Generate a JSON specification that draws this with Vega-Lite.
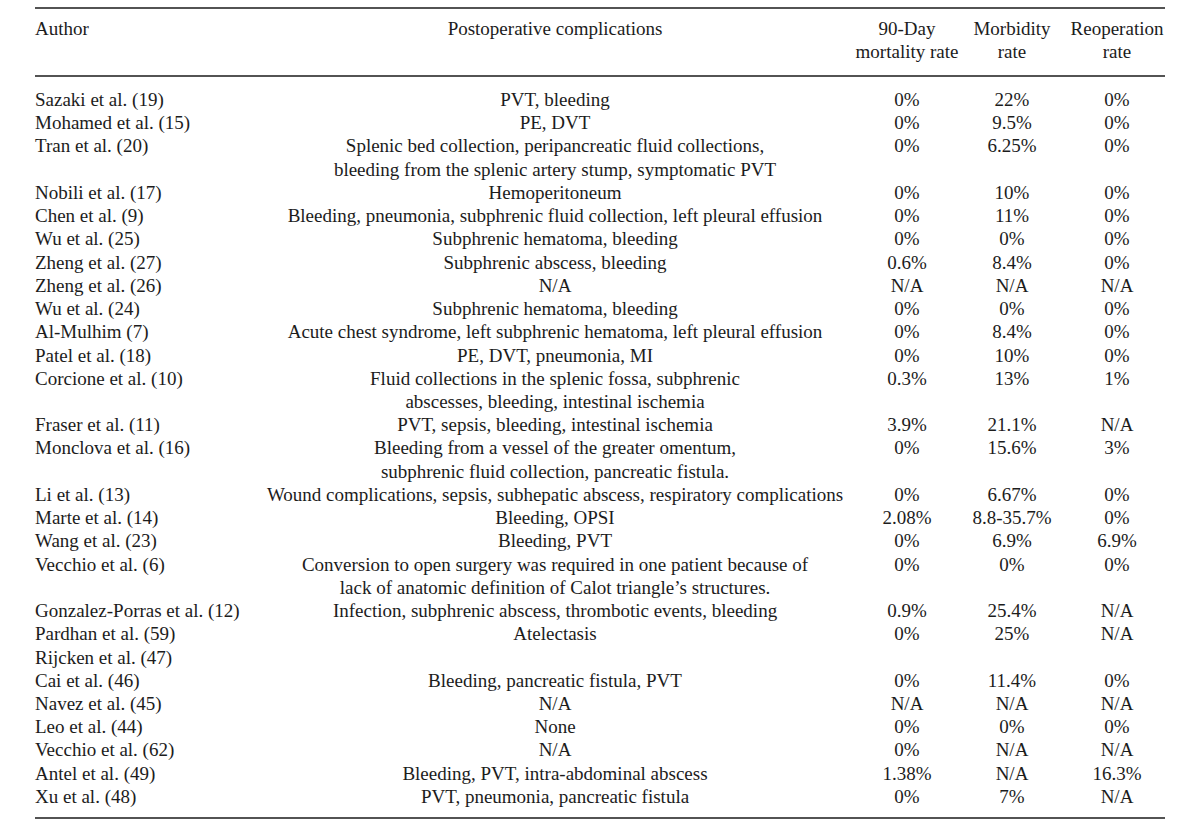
{
  "$schema": "https://vega.github.io/schema/vega-lite/v6.json",
  "width": 1130,
  "height": 827,
  "autosize": {"type": "none"},
  "padding": {"left": 35, "right": 35, "top": 0, "bottom": 0},
  "background": "white",
  "config": {
    "view": {"stroke": null},
    "text": {"font": "Liberation Serif", "fontSize": 19, "color": "#1c1c1c", "baseline": "alphabetic"}
  },
  "datasets": {
    "cols": [
      {"key": "author", "ci": 0},
      {"key": "comp", "ci": 1},
      {"key": "mort", "ci": 2},
      {"key": "morb", "ci": 3},
      {"key": "reop", "ci": 4}
    ],
    "rules": [
      {"r": -4.219},
      {"r": -1.29},
      {"r": 30.65}
    ],
    "table": [
      {"line": -3.05, "author": "Author", "comp": "Postoperative complications", "mort": "90-Day", "morb": "Morbidity", "reop": "Reoperation"},
      {"line": -2.06, "mort": "mortality rate", "morb": "rate", "reop": "rate"},
      {"line": 0, "author": "Sazaki et al. (19)", "comp": "PVT, bleeding", "mort": "0%", "morb": "22%", "reop": "0%"},
      {"line": 1, "author": "Mohamed et al. (15)", "comp": "PE, DVT", "mort": "0%", "morb": "9.5%", "reop": "0%"},
      {"line": 2, "author": "Tran et al. (20)", "comp": "Splenic bed collection, peripancreatic fluid collections,", "mort": "0%", "morb": "6.25%", "reop": "0%"},
      {"line": 3, "comp": "bleeding from the splenic artery stump, symptomatic PVT"},
      {"line": 4, "author": "Nobili et al. (17)", "comp": "Hemoperitoneum", "mort": "0%", "morb": "10%", "reop": "0%"},
      {"line": 5, "author": "Chen et al. (9)", "comp": "Bleeding, pneumonia, subphrenic fluid collection, left pleural effusion", "mort": "0%", "morb": "11%", "reop": "0%"},
      {"line": 6, "author": "Wu et al. (25)", "comp": "Subphrenic hematoma, bleeding", "mort": "0%", "morb": "0%", "reop": "0%"},
      {"line": 7, "author": "Zheng et al. (27)", "comp": "Subphrenic abscess, bleeding", "mort": "0.6%", "morb": "8.4%", "reop": "0%"},
      {"line": 8, "author": "Zheng et al. (26)", "comp": "N/A", "mort": "N/A", "morb": "N/A", "reop": "N/A"},
      {"line": 9, "author": "Wu et al. (24)", "comp": "Subphrenic hematoma, bleeding", "mort": "0%", "morb": "0%", "reop": "0%"},
      {"line": 10, "author": "Al-Mulhim (7)", "comp": "Acute chest syndrome, left subphrenic hematoma, left pleural effusion", "mort": "0%", "morb": "8.4%", "reop": "0%"},
      {"line": 11, "author": "Patel et al. (18)", "comp": "PE, DVT, pneumonia, MI", "mort": "0%", "morb": "10%", "reop": "0%"},
      {"line": 12, "author": "Corcione et al. (10)", "comp": "Fluid collections in the splenic fossa, subphrenic", "mort": "0.3%", "morb": "13%", "reop": "1%"},
      {"line": 13, "comp": "abscesses, bleeding, intestinal ischemia"},
      {"line": 14, "author": "Fraser et al. (11)", "comp": "PVT, sepsis, bleeding, intestinal ischemia", "mort": "3.9%", "morb": "21.1%", "reop": "N/A"},
      {"line": 15, "author": "Monclova et al. (16)", "comp": "Bleeding from a vessel of the greater omentum,", "mort": "0%", "morb": "15.6%", "reop": "3%"},
      {"line": 16, "comp": "subphrenic fluid collection, pancreatic fistula."},
      {"line": 17, "author": "Li et al. (13)", "comp": "Wound complications, sepsis, subhepatic abscess, respiratory complications", "mort": "0%", "morb": "6.67%", "reop": "0%"},
      {"line": 18, "author": "Marte et al. (14)", "comp": "Bleeding, OPSI", "mort": "2.08%", "morb": "8.8-35.7%", "reop": "0%"},
      {"line": 19, "author": "Wang et al. (23)", "comp": "Bleeding, PVT", "mort": "0%", "morb": "6.9%", "reop": "6.9%"},
      {"line": 20, "author": "Vecchio et al. (6)", "comp": "Conversion to open surgery was required in one patient because of", "mort": "0%", "morb": "0%", "reop": "0%"},
      {"line": 21, "comp": "lack of anatomic definition of Calot triangle’s structures."},
      {"line": 22, "author": "Gonzalez-Porras et al. (12)", "comp": "Infection, subphrenic abscess, thrombotic events, bleeding", "mort": "0.9%", "morb": "25.4%", "reop": "N/A"},
      {"line": 23, "author": "Pardhan et al. (59)", "comp": "Atelectasis", "mort": "0%", "morb": "25%", "reop": "N/A"},
      {"line": 24, "author": "Rijcken et al. (47)"},
      {"line": 25, "author": "Cai et al. (46)", "comp": "Bleeding, pancreatic fistula, PVT", "mort": "0%", "morb": "11.4%", "reop": "0%"},
      {"line": 26, "author": "Navez et al. (45)", "comp": "N/A", "mort": "N/A", "morb": "N/A", "reop": "N/A"},
      {"line": 27, "author": "Leo et al. (44)", "comp": "None", "mort": "0%", "morb": "0%", "reop": "0%"},
      {"line": 28, "author": "Vecchio et al. (62)", "comp": "N/A", "mort": "0%", "morb": "N/A", "reop": "N/A"},
      {"line": 29, "author": "Antel et al. (49)", "comp": "Bleeding, PVT, intra-abdominal abscess", "mort": "1.38%", "morb": "N/A", "reop": "16.3%"},
      {"line": 30, "author": "Xu et al. (48)", "comp": "PVT, pneumonia, pancreatic fistula", "mort": "0%", "morb": "7%", "reop": "N/A"}
    ]
  },
  "layer": [
    {
      "data": {"name": "rules"},
      "mark": {"type": "rule", "stroke": "#1a1a1a", "strokeWidth": 1.6},
      "encoding": {
        "y": {"field": "r", "type": "quantitative", "scale": {"domain": [-4.219, 30.65], "range": [8, 818], "zero": false, "nice": false}, "axis": null}
      }
    },
    {
      "data": {"name": "table"},
      "transform": [
        {"fold": ["author", "comp", "mort", "morb", "reop"], "as": ["key", "val"]},
        {"filter": "isValid(datum.val)"},
        {"lookup": "key", "from": {"data": {"name": "cols"}, "key": "key", "fields": ["ci"]}},
        {"filter": "datum.key === 'author'"}
      ],
      "mark": {"type": "text", "align": "left"},
      "encoding": {
        "x": {"field": "ci", "type": "quantitative", "scale": {"domain": [0, 1, 2, 3, 4], "range": [0, 520, 872, 977, 1082], "zero": false, "nice": false}, "axis": null},
        "y": {"field": "line", "type": "quantitative", "axis": null},
        "text": {"field": "val", "type": "nominal"}
      }
    },
    {
      "data": {"name": "table"},
      "transform": [
        {"fold": ["author", "comp", "mort", "morb", "reop"], "as": ["key", "val"]},
        {"filter": "isValid(datum.val)"},
        {"lookup": "key", "from": {"data": {"name": "cols"}, "key": "key", "fields": ["ci"]}},
        {"filter": "datum.key !== 'author'"}
      ],
      "mark": {"type": "text", "align": "center"},
      "encoding": {
        "x": {"field": "ci", "type": "quantitative", "axis": null},
        "y": {"field": "line", "type": "quantitative", "axis": null},
        "text": {"field": "val", "type": "nominal"}
      }
    }
  ]
}
